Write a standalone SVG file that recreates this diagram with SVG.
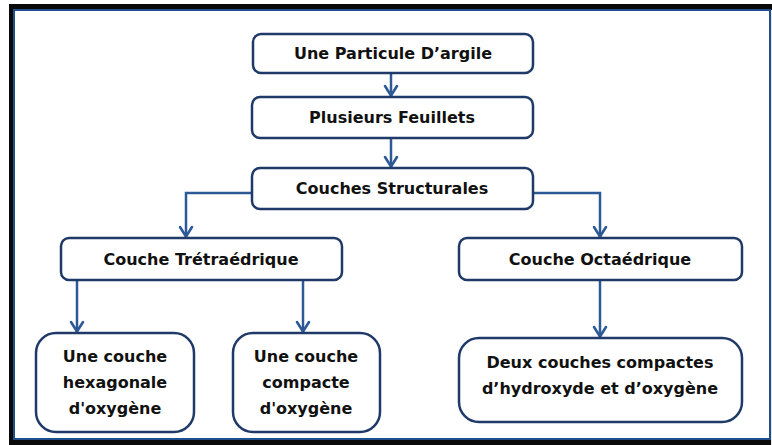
<svg xmlns="http://www.w3.org/2000/svg" width="772" height="445" viewBox="0 0 772 445">
<defs>
<style>
.box{fill:#fff;stroke:#1f3a68;stroke-width:2.5}
.t{font-family:"DejaVu Sans","Open Sans",sans-serif;font-weight:700;font-size:16px;fill:#111;text-anchor:middle}
.c{fill:none;stroke:#2d5a96;stroke-width:2.5}
</style>
<marker id="ah" viewBox="0 0 14 16" refX="12" refY="8" markerWidth="14" markerHeight="16" markerUnits="userSpaceOnUse" orient="auto" overflow="visible">
<path d="M2,2 L11.5,8 L2,14" fill="none" stroke="#2d5a96" stroke-width="2.6" stroke-linecap="round" stroke-linejoin="round"/>
</marker>
</defs>
<rect x="0" y="0" width="772" height="445" fill="#fff"/>
<rect x="9" y="4" width="763" height="441" fill="#0a0a0a"/>
<rect x="14" y="10" width="756" height="429" fill="#fff" stroke="#1f4e8c" stroke-width="2"/>
<rect x="771" y="10" width="1" height="435" fill="#e8e8e8"/>
<g id="connectors">
<path class="c" d="M391,73 V96" marker-end="url(#ah)"/>
<path class="c" d="M391,138 V167" marker-end="url(#ah)"/>
<path class="c" d="M252,193 H186 V237" marker-end="url(#ah)"/>
<path class="c" d="M533,193 H600 V237" marker-end="url(#ah)"/>
<path class="c" d="M77,280 V332" marker-end="url(#ah)"/>
<path class="c" d="M303,280 V332" marker-end="url(#ah)"/>
<path class="c" d="M600,280 V337" marker-end="url(#ah)"/>
</g>
<g id="n1"><rect class="box" x="253" y="34" width="280" height="39" rx="8"/><text class="t" x="393" y="59">Une Particule D’argile</text></g>
<g id="n2"><rect class="box" x="252" y="97" width="281" height="41" rx="8"/><text class="t" x="392" y="123">Plusieurs Feuillets</text></g>
<g id="n3"><rect class="box" x="252" y="168" width="281" height="41" rx="8"/><text class="t" x="392" y="194">Couches Structurales</text></g>
<g id="n4"><rect class="box" x="61" y="238" width="281" height="42" rx="8"/><text class="t" x="201" y="265">Couche Trétraédrique</text></g>
<g id="n5"><rect class="box" x="459" y="238" width="283" height="42" rx="8"/><text class="t" x="600" y="265">Couche Octaédrique</text></g>
<g id="n6"><rect class="box" x="36" y="333" width="158" height="99" rx="20"/><text class="t" x="115" y="362">Une couche<tspan x="115" y="388">hexagonale</tspan><tspan x="115" y="414">d'oxygène</tspan></text></g>
<g id="n7"><rect class="box" x="233" y="333" width="147" height="99" rx="20"/><text class="t" x="306" y="362">Une couche<tspan x="306" y="388">compacte</tspan><tspan x="306" y="414">d'oxygène</tspan></text></g>
<g id="n8"><rect class="box" x="459" y="338" width="283" height="84" rx="20"/><text class="t" x="600" y="368">Deux couches compactes<tspan x="600" y="394">d’hydroxyde et d’oxygène</tspan></text></g>
</svg>
